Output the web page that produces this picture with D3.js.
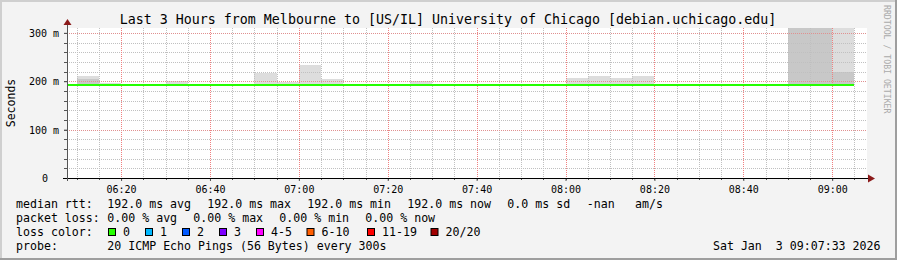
<!DOCTYPE html>
<html>
<head>
<meta charset="utf-8">
<script src="https://cdn.jsdelivr.net/npm/d3@7"></script>
<style>
	body { margin: 0; background: #f3f3f3; }
	svg { display: block; }
	text { font-family: 'DejaVu Sans Mono', monospace; fill: #000; }
</style>
</head>
<body>
<script>

// Interval starts (5 min steps), median rtt and smoke tops, all in ms
const slots = [ '06:05', '06:10', '06:15', '06:20', '06:25', '06:30', '06:35', '06:40', '06:45',
	'06:50', '06:55', '07:00', '07:05', '07:10', '07:15', '07:20', '07:25', '07:30',
	'07:35', '07:40', '07:45', '07:50', '07:55', '08:00', '08:05', '08:10', '08:15',
	'08:20', '08:25', '08:30', '08:35', '08:40', '08:45', '08:50', '08:55', '09:00' ]

const medianRtt = [ 192, 192, 192, 192, 192, 192, 192, 192, 192,
	192, 192, 192, 192, 192, 192, 192, 192, 192,
	192, 192, 192, 192, 192, 192, 192, 192, 192,
	192, 192, 192, 192, 192, 192, 192, 192, 192 ]

const smokeOuter = [ 192, 210, 197, 192, 192, 201, 192, 192, 192,
	218, 199, 234, 205, 192, 192, 192, 201, 192,
	192, 192, 192, 192, 192, 207, 210, 207, 210,
	192, 192, 192, 192, 192, 192, 330, 330, 330 ]

const smokeInner = [ 192, 204, 192, 192, 192, 192, 192, 192, 192,
	192, 192, 192, 192, 192, 192, 192, 192, 192,
	192, 192, 192, 192, 192, 192, 192, 192, 192,
	192, 192, 192, 192, 192, 192, 330, 330, 220 ]

const yTickValues = [ 0, 100, 200, 300 ],
	yTickLabels = [ '0', '100 m', '200 m', '300 m' ]

const xTickLabels = [ '06:20', '06:40', '07:00', '07:20', '07:40', '08:00', '08:20', '08:40', '09:00' ]

const lossColors = [ '#26ff00', '#00b8ff', '#0059ff', '#7e00ff', '#ff00ff', '#ff5e00', '#ff0000', '#a10000' ],
	lossLabels = [ '0', '1', '2', '3', '4-5', '6-10', '11-19', '20/20' ]

const width = 897,
	height = 260,
	pLeft = 67,
	pRight = 867,
	pTop = 28,
	pBottom = 178

const parse = s => {
	const [ h, m ] = s.split( ':' ).map( Number )
	return new Date( 2026, 0, 3, h, m, 0 )
}

const x = d3.scaleTime()
	.domain( [ new Date( 2026, 0, 3, 6, 7, 50 ), new Date( 2026, 0, 3, 9, 7, 50 ) ] )
	.range( [ pLeft, pRight ] )

const y = d3.scaleLinear()
	.domain( [ 0, 310 ] )
	.range( [ pBottom, pTop ] )

const svg = d3.select( 'body' )
	.append( 'svg' )
	.attr( 'width', width )
	.attr( 'height', height )

// achtergrond met rand
svg.append( 'rect' ).attr( 'width', width ).attr( 'height', height ).attr( 'fill', '#f3f3f3' )
svg.append( 'path' ).attr( 'd', `M1,${ height } V1 H${ width }` ).attr( 'stroke', '#cfcfcf' ).attr( 'stroke-width', 2 ).attr( 'fill', 'none' )
svg.append( 'path' ).attr( 'd', `M0,${ height - 1 } H${ width - 1 } V0` ).attr( 'stroke', '#9e9e9e' ).attr( 'stroke-width', 2 ).attr( 'fill', 'none' )

svg.append( 'defs' ).append( 'clipPath' ).attr( 'id', 'plot' )
	.append( 'rect' ).attr( 'x', pLeft ).attr( 'y', pTop ).attr( 'width', pRight - pLeft ).attr( 'height', pBottom - pTop )

svg.append( 'rect' )
	.attr( 'x', pLeft ).attr( 'y', pTop )
	.attr( 'width', pRight - pLeft ).attr( 'height', pBottom - pTop )
	.attr( 'fill', '#fff' )

const data = slots.map( ( s, i ) => ( {
	t0: parse( s ),
	t1: d3.timeMinute.offset( parse( s ), 5 ),
	median: medianRtt[ i ],
	outer: smokeOuter[ i ],
	inner: smokeInner[ i ]
} ) )

const plot = svg.append( 'g' ).attr( 'clip-path', 'url(#plot)' )

// smoke: licht buitenste laag, donkerder binnenste
plot.selectAll( '.outer' )
	.data( data.filter( d => d.outer > d.median ) )
	.enter()
	.append( 'rect' )
	.attr( 'x', d => Math.round( x( d.t0 ) ) )
	.attr( 'width', d => Math.round( x( d.t1 ) ) - Math.round( x( d.t0 ) ) )
	.attr( 'y', d => Math.round( y( d.outer ) ) )
	.attr( 'height', d => Math.round( y( d.median ) ) - Math.round( y( d.outer ) ) )
	.attr( 'fill', '#dddddd' )

plot.selectAll( '.inner' )
	.data( data.filter( d => d.inner > d.median ) )
	.enter()
	.append( 'rect' )
	.attr( 'x', d => Math.round( x( d.t0 ) ) )
	.attr( 'width', d => Math.round( x( d.t1 ) ) - Math.round( x( d.t0 ) ) )
	.attr( 'y', d => Math.round( y( d.inner ) ) )
	.attr( 'height', d => Math.round( y( d.median ) ) - Math.round( y( d.inner ) ) )
	.attr( 'fill', '#c8c8c8' )

// grid
const minorX = x.ticks( d3.timeMinute.every( 5 ) ),
	majorX = xTickLabels.map( parse ),
	minorY = y.ticks( 15 )

plot.selectAll( '.vminor' )
	.data( minorX.filter( t => t.getMinutes() % 20 !== 0 ) )
	.enter()
	.append( 'line' )
	.attr( 'x1', d => Math.round( x( d ) ) + 0.5 ).attr( 'x2', d => Math.round( x( d ) ) + 0.5 )
	.attr( 'y1', pTop ).attr( 'y2', pBottom )
	.attr( 'stroke', '#c0c0c0' ).attr( 'stroke-dasharray', '1,1' )

plot.selectAll( '.hminor' )
	.data( minorY.filter( v => v % 100 !== 0 ) )
	.enter()
	.append( 'line' )
	.attr( 'y1', d => Math.round( y( d ) ) + 0.5 ).attr( 'y2', d => Math.round( y( d ) ) + 0.5 )
	.attr( 'x1', pLeft ).attr( 'x2', pRight )
	.attr( 'stroke', '#c0c0c0' ).attr( 'stroke-dasharray', '1,1' )

plot.selectAll( '.vmajor' )
	.data( majorX )
	.enter()
	.append( 'line' )
	.attr( 'x1', d => Math.round( x( d ) ) + 0.5 ).attr( 'x2', d => Math.round( x( d ) ) + 0.5 )
	.attr( 'y1', pTop ).attr( 'y2', pBottom )
	.attr( 'stroke', '#f08080' ).attr( 'stroke-dasharray', '1,1' )

plot.selectAll( '.hmajor' )
	.data( yTickValues.filter( v => v > 0 ) )
	.enter()
	.append( 'line' )
	.attr( 'y1', d => Math.round( y( d ) ) + 0.5 ).attr( 'y2', d => Math.round( y( d ) ) + 0.5 )
	.attr( 'x1', pLeft ).attr( 'x2', pRight )
	.attr( 'stroke', '#e09090' ).attr( 'stroke-dasharray', '1,1' )

// mediaan lijn, kleur volgens packet loss (alles 0)
plot.selectAll( '.median' )
	.data( data )
	.enter()
	.append( 'line' )
	.attr( 'x1', d => Math.round( x( d.t0 ) ) ).attr( 'x2', d => Math.round( x( d.t1 ) ) )
	.attr( 'y1', d => Math.round( y( d.median ) ) ).attr( 'y2', d => Math.round( y( d.median ) ) )
	.attr( 'stroke', lossColors[ 0 ] ).attr( 'stroke-width', 2 )

// assen
const xAxis = svg.append( 'g' )
	.attr( 'transform', `translate( 0, ${ pBottom } )` )
	.call( d3.axisBottom( x )
		.tickValues( majorX )
		.tickFormat( ( d, i ) => xTickLabels[ i ] )
		.tickSize( 3 )
		.tickPadding( 3 ) )

xAxis.select( '.domain' ).remove()
xAxis.selectAll( 'line' ).attr( 'stroke', '#555' )
xAxis.selectAll( 'text' ).style( 'font-size', '10px' ).attr( 'dy', '0.9em' )

svg.append( 'g' ).selectAll( 'line' )
	.data( minorX )
	.enter()
	.append( 'line' )
	.attr( 'x1', d => Math.round( x( d ) ) + 0.5 ).attr( 'x2', d => Math.round( x( d ) ) + 0.5 )
	.attr( 'y1', pBottom ).attr( 'y2', pBottom + 2 )
	.attr( 'stroke', '#555' )

const yAxis = svg.append( 'g' )
	.attr( 'transform', `translate( ${ pLeft }, 0 )` )
	.call( d3.axisLeft( y )
		.tickValues( yTickValues )
		.tickFormat( ( d, i ) => yTickLabels[ i ] )
		.tickSize( 3 )
		.tickPadding( 5 ) )

yAxis.select( '.domain' ).remove()
yAxis.selectAll( 'line' ).attr( 'stroke', '#555' )
yAxis.selectAll( 'text' ).style( 'font-size', '10px' ).attr( 'dy', '0.36em' )
yAxis.selectAll( '.tick' ).filter( d => d === 0 ).select( 'text' ).attr( 'x', -19 )

svg.append( 'g' ).selectAll( 'line' )
	.data( minorY )
	.enter()
	.append( 'line' )
	.attr( 'y1', d => Math.round( y( d ) ) + 0.5 ).attr( 'y2', d => Math.round( y( d ) ) + 0.5 )
	.attr( 'x1', pLeft - 3 ).attr( 'x2', pLeft )
	.attr( 'stroke', '#555' )

svg.append( 'line' )
	.attr( 'x1', pLeft - 4 ).attr( 'x2', pRight + 2 )
	.attr( 'y1', pBottom + 0.5 ).attr( 'y2', pBottom + 0.5 )
	.attr( 'stroke', '#000' )

svg.append( 'line' )
	.attr( 'x1', pLeft + 0.5 ).attr( 'x2', pLeft + 0.5 )
	.attr( 'y1', pBottom + 3 ).attr( 'y2', pTop - 4 )
	.attr( 'stroke', '#555' )

// pijlpunten
svg.append( 'path' )
	.attr( 'd', `M${ pRight + 1 },${ pBottom - 3.5 } L${ pRight + 8 },${ pBottom + 0.5 } L${ pRight + 1 },${ pBottom + 4.5 } Z` )
	.attr( 'fill', '#8b1a1a' )

svg.append( 'path' )
	.attr( 'd', `M${ pLeft - 3.5 },${ pTop - 3 } L${ pLeft + 0.5 },${ pTop - 9 } L${ pLeft + 4.5 },${ pTop - 3 } Z` )
	.attr( 'fill', '#8b1a1a' )

// titels
svg.append( 'text' )
	.attr( 'x', 448 ).attr( 'y', 24 )
	.attr( 'text-anchor', 'middle' )
	.style( 'font-size', '13.3px' )
	.text( 'Last 3 Hours from Melbourne to [US/IL] University of Chicago [debian.uchicago.edu]' )

svg.append( 'text' )
	.attr( 'transform', 'translate( 15, 103 ) rotate( -90 )' )
	.attr( 'text-anchor', 'middle' )
	.style( 'font-size', '11.5px' )
	.text( 'Seconds' )

svg.append( 'text' )
	.attr( 'transform', 'translate( 884, 5 ) rotate( 90 )' )
	.style( 'font-size', '8.2px' )
	.style( 'fill', '#aaa' )
	.text( 'RRDTOOL / TOBI OETIKER' )

// legenda
const legend = svg.append( 'g' ).style( 'font-size', '11.6px' )

const addText = ( xPos, yPos, str ) => legend.append( 'text' )
	.attr( 'x', xPos ).attr( 'y', yPos )
	.attr( 'xml:space', 'preserve' )
	.text( str )

const rowY = [ 207.5, 221.5, 235.5, 249.5 ]

addText( 16, rowY[ 0 ], 'median rtt:' )
;[ '192.0 ms avg', '192.0 ms max', '192.0 ms min', '192.0 ms now', '0.0 ms sd' ]
	.forEach( ( s, i ) => addText( 107.3 + i * 100, rowY[ 0 ], s ) )
addText( 586.7, rowY[ 0 ], '-nan' )
addText( 635, rowY[ 0 ], 'am/s' )

addText( 16, rowY[ 1 ], 'packet loss:' )
;[ '0.00 % avg', '0.00 % max', '0.00 % min', '0.00 % now' ]
	.forEach( ( s, i ) => addText( 107.3 + i * 86, rowY[ 1 ], s ) )

addText( 16, rowY[ 2 ], 'loss color:' )

const boxX = [ 108.5, 145.5, 182.5, 219.5, 256.5, 307, 367.5, 431 ]

const item = legend.selectAll( '.loss' )
	.data( lossLabels )
	.enter()
	.append( 'g' )
	.attr( 'transform', ( d, i ) => `translate( ${ boxX[ i ] }, 0 )` )

item.append( 'rect' )
	.attr( 'x', 0 ).attr( 'y', 228.5 )
	.attr( 'width', 7 ).attr( 'height', 7 )
	.attr( 'fill', ( d, i ) => lossColors[ i ] )
	.attr( 'stroke', '#000' )

item.append( 'text' )
	.attr( 'x', 14.5 ).attr( 'y', rowY[ 2 ] )
	.text( d => d )

addText( 16, rowY[ 3 ], 'probe:' )
addText( 107.3, rowY[ 3 ], '20 ICMP Echo Pings (56 Bytes) every 300s' )

legend.append( 'text' )
	.attr( 'x', 880.5 ).attr( 'y', rowY[ 3 ] )
	.attr( 'text-anchor', 'end' )
	.attr( 'xml:space', 'preserve' )
	.text( 'Sat Jan  3 09:07:33 2026' )

</script>
</body>
</html>
